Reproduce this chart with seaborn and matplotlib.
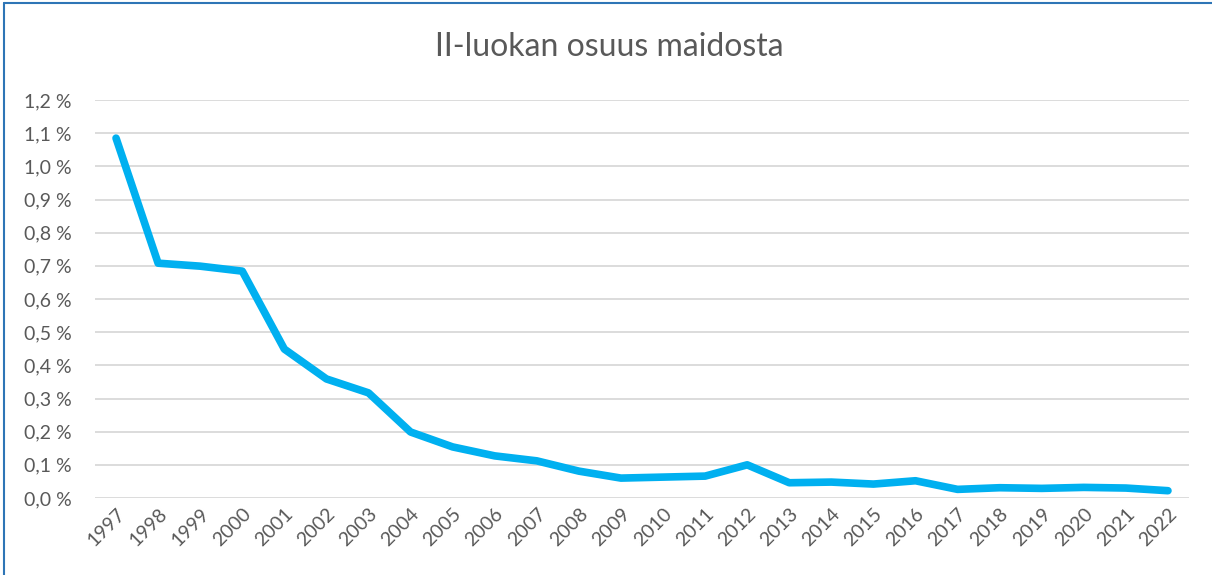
import matplotlib
matplotlib.use('Agg')
import matplotlib.pyplot as plt
from matplotlib.ticker import FuncFormatter
from matplotlib.lines import Line2D
import seaborn as sns
import pandas as pd

# Data (percent of milk graded class II)
years = list(range(1997, 2023))
share = [1.085, 0.708, 0.699, 0.684, 0.449, 0.359, 0.317, 0.199, 0.154, 0.127,
         0.112, 0.081, 0.060, 0.063, 0.066, 0.100, 0.046, 0.048, 0.042, 0.052,
         0.026, 0.031, 0.029, 0.032, 0.030, 0.022]
title = 'II-luokan osuus maidosta'

df = pd.DataFrame({'year': years, 'share': share})

sns.set_style('white')
plt.rcParams['font.family'] = ['Lato', 'DejaVu Sans']

fig = plt.figure(figsize=(12.12, 5.75), dpi=100)
ax = fig.add_axes([95 / 1212, 1 - 498 / 575, (1189 - 95) / 1212, 398 / 575])

sns.lineplot(data=df, x='year', y='share', ax=ax, color='#00B0F0',
             linewidth=5.5, solid_capstyle='round', solid_joinstyle='round')

ax.set_xlim(1996.5, 2022.5)
ax.set_ylim(0, 1.2)
ax.set_yticks([i / 10 for i in range(13)])
ax.yaxis.set_major_formatter(FuncFormatter(lambda v, p: f'{v:.1f} %'.replace('.', ',')))
ax.set_xticks(years)
ax.set_xticklabels([str(y) for y in years], rotation=45, ha='right',
                   rotation_mode='anchor')
ax.tick_params(axis='both', length=0, colors='#595959', labelsize=14)
ax.tick_params(axis='y', pad=17)
ax.tick_params(axis='x', pad=5)
ax.grid(axis='y', color='#D9D9D9', linewidth=1.3)
ax.set_axisbelow(True)
for s in ax.spines.values():
    s.set_visible(False)
ax.set_xlabel('')
ax.set_ylabel('')

fig.text(0.5025, 1 - 47 / 575, title, ha='center', va='center',
         fontsize=23, color='#595959')

# blue frame around the chart (cut off at right and bottom)
fig.add_artist(Line2D([3.5 / 1212, 3.5 / 1212], [0, 1 - 2.5 / 575],
                      transform=fig.transFigure, color='#2E75B6', linewidth=1.5))
fig.add_artist(Line2D([3.5 / 1212, 1], [1 - 2.5 / 575, 1 - 2.5 / 575],
                      transform=fig.transFigure, color='#2E75B6', linewidth=1.5))

fig.savefig('out.png', dpi=100)
